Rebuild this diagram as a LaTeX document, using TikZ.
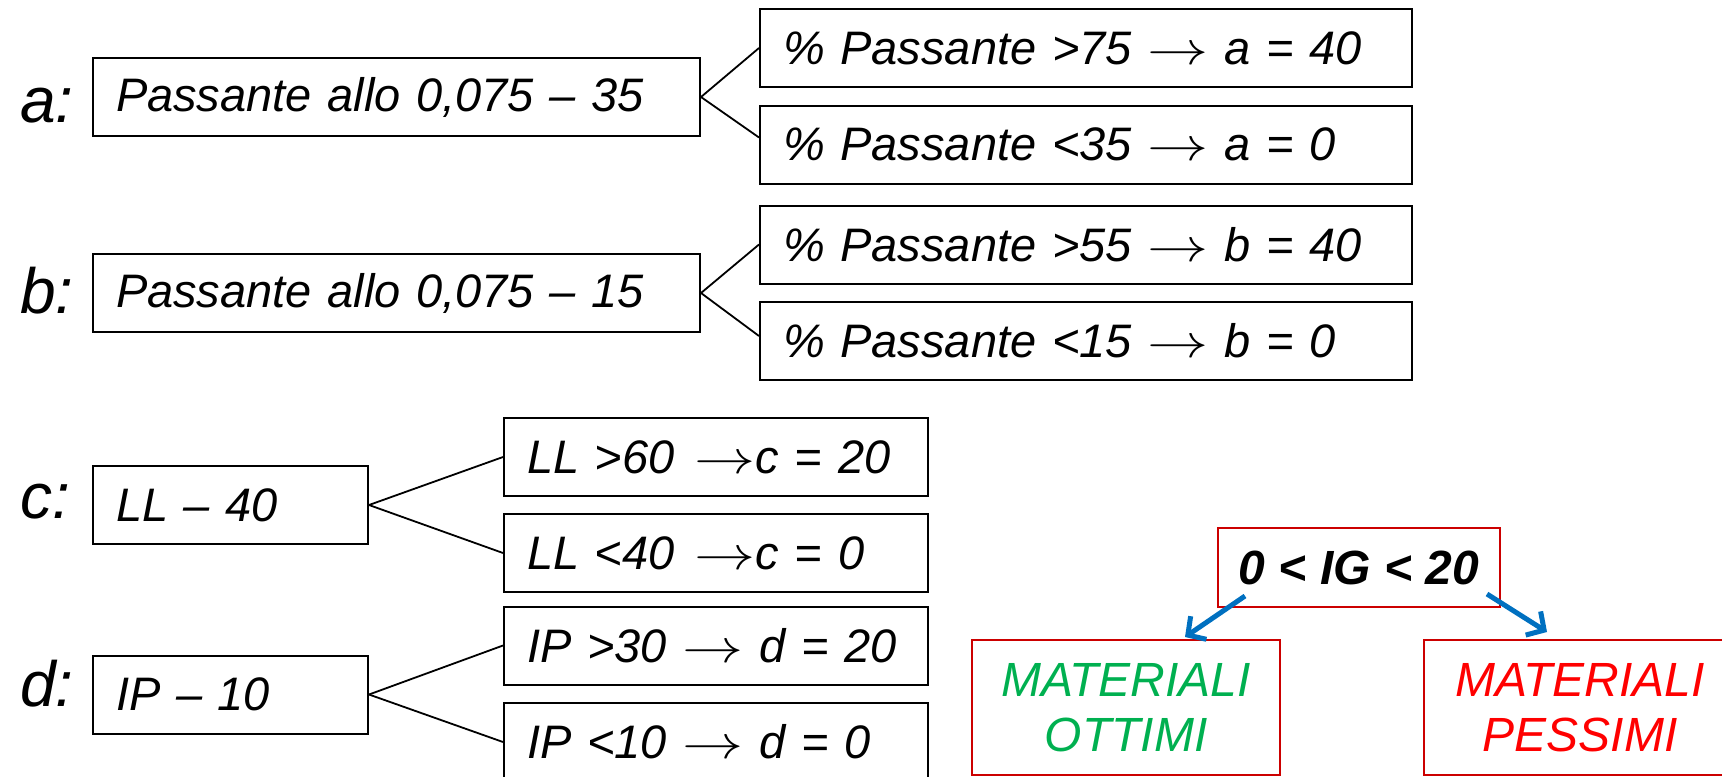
\RequirePackage{fix-cm}
\documentclass[tikz,border=0pt]{standalone}
\usepackage{fontspec}
\setmainfont{Liberation Sans}
\usetikzlibrary{arrows.meta,calc}
\definecolor{igred}{HTML}{CC0000}
\definecolor{okgreen}{HTML}{00B050}
\definecolor{badred}{HTML}{FF0000}
\definecolor{arrblue}{HTML}{0070C0}
\newcommand{\myarr}{\scalebox{1.3}[1]{$\rightarrow$}}
\tikzset{
 box/.style={draw, line width=1pt, inner xsep=11.5pt, inner ysep=0pt, minimum height=39pt, align=left, font=\fontsize{23.5}{28}\selectfont\itshape},
 widebox/.style={box, text width=303pt},
 mainbox/.style={box, text width=280.5pt},
 smallbox/.style={box, text width=114.5pt},
 midbox/.style={box, text width=189pt},
 lbl/.style={anchor=base west, inner sep=0pt, font=\fontsize{32}{36}\selectfont\itshape},
 link/.style={line width=0.9pt},
 redbox/.style={draw=igred, line width=1pt, align=center, font=\fontsize{24}{27.5}\selectfont\itshape, inner sep=0pt},
 blarrow/.style={draw=arrblue, line width=2.5pt, -{Straight Barb[length=6.5pt,width=14pt]}},
}
\begin{document}
\begin{tikzpicture}[x=0.5pt,y=-0.5pt]
\useasboundingbox (0,0) rectangle (1722,776);
\clip (0,0) rectangle (1722,776);
% labels
\node[lbl] (la) at (20,122) {a:};
\node[lbl] (lb) at (20,313) {b:};
\node[lbl] (lc) at (20,518) {c:};
\node[lbl] (ld) at (20,706) {d:};
% a
\node[mainbox] (am) at (396.5,97) {Passante allo 0,075 – 35};
\node[widebox] (a1) at (1086,48) {\% Passante >75 \myarr{} a = 40};
\node[widebox] (a2) at (1086,144.5) {\% Passante <35 \myarr{} a = 0};
% b
\node[mainbox] (bm) at (396.5,293) {Passante allo 0,075 – 15};
\node[widebox] (b1) at (1086,244.5) {\% Passante >55 \myarr{} b = 40};
\node[widebox] (b2) at (1086,341) {\% Passante <15 \myarr{} b = 0};
% c
\node[smallbox] (cm) at (230.5,505) {LL – 40};
\node[midbox] (c1) at (716,457) {\mbox{LL >60\hspace{10pt}\myarr{}c = 20}};
\node[midbox] (c2) at (716,553) {\mbox{LL <40\hspace{10pt}\myarr{}c = 0}};
% d
\node[smallbox] (dm) at (230.5,694.5) {IP – 10};
\node[midbox] (d1) at (716,645.5) {IP >30 \myarr{} d = 20};
\node[midbox] (d2) at (716,742) {IP <10 \myarr{} d = 0};
% connectors
\draw[link] (am.east) -- (a1.west);
\draw[link] (am.east) -- ($(a2.west)+(0,-7)$);
\draw[link] (bm.east) -- (b1.west);
\draw[link] (bm.east) -- ($(b2.west)+(0,-5)$);
\draw[link] (cm.east) -- (c1.west);
\draw[link] (cm.east) -- (c2.west);
\draw[link] (dm.east) -- (d1.west);
\draw[link] (dm.east) -- (d2.west);
% IG
\node[redbox, minimum width=141pt, minimum height=39.5pt, font=\fontsize{24}{28}\selectfont\itshape\bfseries] (ig) at (1359,567.5) {0 < IG < 20};
\node[redbox, minimum width=154pt, minimum height=67.5pt, text=okgreen] (ott) at (1126,707.5) {MATERIALI\\OTTIMI};
\node[redbox, minimum width=156pt, minimum height=67.5pt, text=badred] (pes) at (1580,707.5) {MATERIALI\\PESSIMI};
\coordinate (igL) at (1245,596);
\coordinate (igR) at (1487,594);
\coordinate (ottT) at (1185,637);
\coordinate (pesT) at (1547,632);
\draw[blarrow] (igL) -- (ottT);
\draw[blarrow] (igR) -- (pesT);
\end{tikzpicture}
\end{document}
